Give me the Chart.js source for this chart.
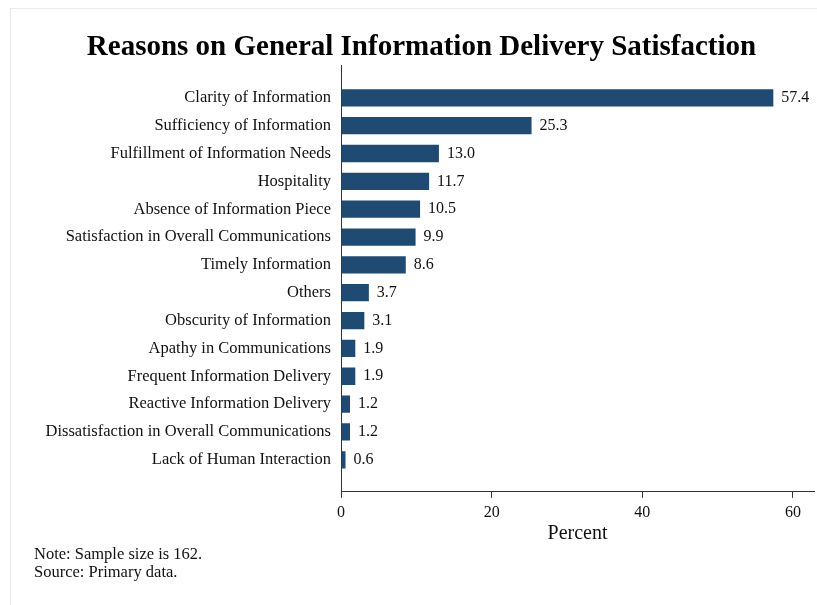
<!DOCTYPE html>
<html>
<head>
<meta charset="utf-8">
<script src="https://cdn.jsdelivr.net/npm/chart.js@4.4.0/dist/chart.umd.min.js"></script>
<style>
  html, body { margin: 0; padding: 0; background: #fff; }
</style>
</head>
<body>
<canvas id="reasonChart" width="817" height="605"></canvas>
<script>
// chart data
const reasons = [
    'Clarity of Information',
    'Sufficiency of Information',
    'Fulfillment of Information Needs',
    'Hospitality',
    'Absence of Information Piece',
    'Satisfaction in Overall Communications',
    'Timely Information',
    'Others',
    'Obscurity of Information',
    'Apathy in Communications',
    'Frequent Information Delivery',
    'Reactive Information Delivery',
    'Dissatisfaction in Overall Communications',
    'Lack of Human Interaction'
];
const percents = [57.4, 25.3, 13.0, 11.7, 10.5, 9.9, 8.6, 3.7, 3.1, 1.9, 1.9, 1.2, 1.2, 0.6];
const xTicks = [0, 20, 40, 60];
const notes = ['Note: Sample size is 162.', 'Source: Primary data.'];

const serif = '"Liberation Serif", "Times New Roman", serif';
Chart.defaults.font.family = serif;
Chart.defaults.color = '#111';

// white page with the faint frame line
const framePlugin = {
    id: 'frame',
    beforeDraw(chart) {
        const ctx = chart.ctx;
        ctx.save();
        ctx.fillStyle = '#fff';
        ctx.fillRect(0, 0, chart.width, chart.height);
        ctx.strokeStyle = '#e8e8e8';
        ctx.lineWidth = 1;
        ctx.strokeRect(10.5, 8.5, chart.width + 20, chart.height + 20);
        ctx.restore();
    }
};

// numbers to the right of each bar
const valueLabels = {
    id: 'valueLabels',
    afterDatasetsDraw(chart) {
        const ctx = chart.ctx;
        const meta = chart.getDatasetMeta(0);
        ctx.save();
        ctx.font = '16px ' + serif;
        ctx.fillStyle = '#111';
        ctx.textAlign = 'left';
        ctx.textBaseline = 'middle';
        meta.data.forEach((bar, i) => {
            ctx.fillText(percents[i].toFixed(1), bar.x + 8, bar.y);
        });
        ctx.restore();
    }
};

// note + source below the chart
const notePlugin = {
    id: 'notes',
    afterDraw(chart) {
        const ctx = chart.ctx;
        ctx.save();
        ctx.font = '16.5px ' + serif;
        ctx.fillStyle = '#111';
        ctx.textBaseline = 'middle';
        notes.forEach((t, i) => ctx.fillText(t, 34, 555 + i * 18));
        ctx.restore();
    }
};

const ctx = document.getElementById('reasonChart').getContext('2d');
const reasonChart = new Chart(ctx, {
    type: 'bar',
    data: {
        datasets: [{
            data: percents.map((v, i) => ({ x: v, y: i })),
            backgroundColor: '#1f4a72',
            borderWidth: 0,
            barPercentage: 0.62,
            categoryPercentage: 1
        }]
    },
    options: {
        indexAxis: 'y',
        responsive: false,
        animation: false,
        layout: { padding: { top: 0, right: 3, bottom: 61, left: 29 } },
        plugins: {
            legend: { display: false },
            tooltip: { enabled: false },
            title: {
                display: true,
                text: 'Reasons on General Information Delivery Satisfaction',
                color: '#000',
                font: { size: 29, weight: 'bold', family: serif },
                padding: { top: 30, bottom: 1 }
            }
        },
        scales: {
            x: {
                type: 'linear',
                position: 'bottom',
                min: 0,
                max: 62.8,
                afterBuildTicks: s => { s.ticks = xTicks.map(v => ({ value: v })); },
                grid: { drawOnChartArea: false, drawTicks: true, tickLength: 6, color: '#333' },
                border: { display: true, color: '#333' },
                ticks: { font: { size: 16 }, padding: 5, color: '#111' },
                title: {
                    display: true,
                    text: 'Percent',
                    font: { size: 20, lineHeight: 1 },
                    color: '#111',
                    padding: { top: -3, bottom: 0 }
                }
            },
            y: {
                type: 'linear',
                reverse: true,
                offset: false,
                min: -1.15,
                max: 14.15,
                afterBuildTicks: s => { s.ticks = reasons.map((r, i) => ({ value: i })); },
                afterFit: s => { s.width = 341 - 29; },
                grid: { display: false, drawTicks: false },
                border: { display: true, color: '#333' },
                ticks: {
                    font: { size: 16.5 },
                    padding: 10,
                    color: '#111',
                    autoSkip: false,
                    callback: v => reasons[v]
                }
            }
        }
    },
    plugins: [framePlugin, valueLabels, notePlugin]
});
</script>
</body>
</html>
